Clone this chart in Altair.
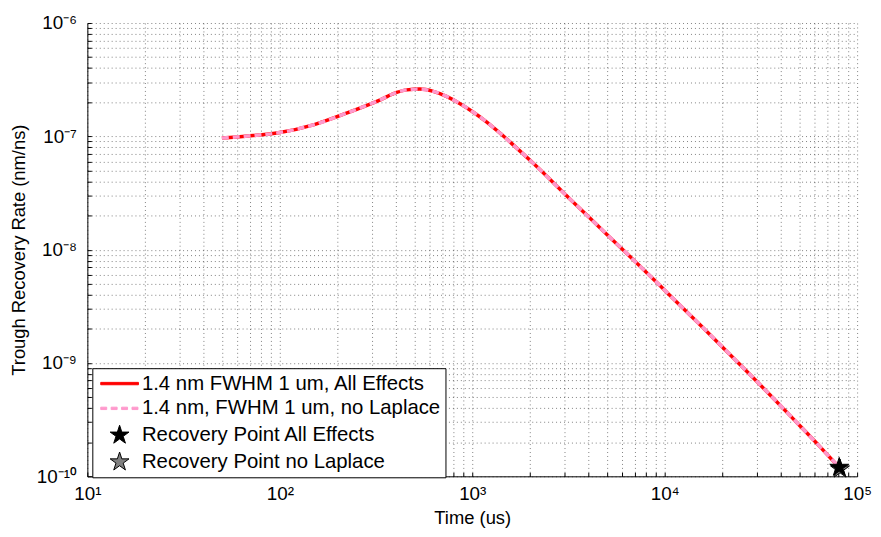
import altair as alt
import pandas as pd

# ---- data ----
time_us = [50, 68, 100, 151, 224, 333, 405, 457, 535, 627, 734, 860, 1009,
           1181, 1383, 1622, 2096, 3177, 4721, 7000, 10400, 15450, 22960,
           36900, 48700, 64200, 80700]
rate_all = [9.66e-8, 1.005e-7, 1.08e-7, 1.27e-7, 1.61e-7, 2.10e-7, 2.44e-7,
            2.57e-7, 2.61e-7, 2.49e-7, 2.25e-7, 1.95e-7, 1.64e-7, 1.35e-7,
            1.08e-7, 8.49e-8, 5.69e-8, 2.86e-8, 1.50e-8, 7.91e-9, 4.11e-9,
            2.13e-9, 1.09e-9, 4.84e-10, 2.97e-10, 1.82e-10, 1.20e-10]
rate_nolap = list(rate_all)
star_time = [81500, 80700]
star_rate = [1.16e-10, 1.20e-10]

series = ["1.4 nm FWHM 1 um, All Effects",
          "1.4 nm, FWHM 1 um, no Laplace",
          "Recovery Point All Effects",
          "Recovery Point no Laplace"]

x_ticks = [k * 10 ** e for e in range(1, 5) for k in range(1, 10)] + [1e5]
y_ticks = [k * 10.0 ** e for e in range(-10, -6) for k in range(1, 10)] + [1e-6]

red_df = pd.DataFrame({"t": time_us, "r": rate_all, "s": series[0]})
pink_df = pd.DataFrame({"t": time_us, "r": rate_nolap, "s": series[1]})
star_df = pd.DataFrame({"t": star_time, "r": star_rate, "s": [series[3], series[2]]})

W, H = 776, 457
FONT = "Liberation Sans"

# legend / point symbol shapes (unit coordinates, scaled by sqrt(size)/2)
STAR = ("M0,-1L0.2245,-0.309L0.951,-0.309L0.363,0.118L0.588,0.809L0,0.382"
        "L-0.588,0.809L-0.363,0.118L-0.951,-0.309L-0.2245,-0.309Z")
SOLID = "M-1.9,-0.12L1.9,-0.12L1.9,0.12L-1.9,0.12Z"
DASHED = ("M-1.9,-0.12L-1.3,-0.12L-1.3,0.12L-1.9,0.12Z"
          "M-0.85,-0.12L-0.25,-0.12L-0.25,0.12L-0.85,0.12Z"
          "M0.2,-0.12L0.8,-0.12L0.8,0.12L0.2,0.12Z"
          "M1.25,-0.12L1.85,-0.12L1.85,0.12L1.25,0.12Z")

stroke_sc = alt.Scale(domain=series, range=["#ff0000", "#ff99cc", "#000000", "#000000"])
fill_sc = alt.Scale(domain=series, range=["#ff0000", "#ff99cc", "#000000", "#808080"])
shape_sc = alt.Scale(domain=series, range=[SOLID, DASHED, STAR, STAR])

leg = alt.Legend(
    title=None, orient="none", legendX=5, legendY=348,
    padding=5, symbolOffset=12, labelOffset=12, rowPadding=4,
    symbolSize=400, symbolStrokeWidth=1, labelFontSize=20.5, labelFont=FONT,
    labelColor="black", labelLimit=0, strokeColor="black", fillColor="white",
    cornerRadius=0,
)

lbl = ("abs(datum.value/pow(10, round(log(datum.value)/LN10)) - 1) < 1e-6 ? "
       "'10' + (round(log(datum.value)/LN10) < 0 ? '⁻' : '') + "
       "['⁰','¹','²','³','⁴','⁵','⁶','⁷','⁸','⁹','¹⁰'][abs(round(log(datum.value)/LN10))] : ''")

xs = alt.Scale(type="log", domain=[10, 1e5], nice=False)
ys = alt.Scale(type="log", domain=[1e-10, 1e-6], nice=False)

grid_kw = dict(grid=True, gridDash=[1, 3], gridColor="#000000", gridOpacity=0.5, gridWidth=1)

x_main = alt.Axis(values=x_ticks, labelExpr=lbl, ticks=False, tickSize=0,
                  domainColor="black", labelFont=FONT, labelFontSize=19,
                  labelColor="black", labelPadding=8, labelOverlap=False,
                  labelFlush=False, labelBound=False, title="Time (us)",
                  titleFont=FONT, titleFontSize=18.5, titleFontWeight="normal",
                  titleColor="black", titlePadding=6, **grid_kw)
y_main = alt.Axis(values=y_ticks, labelExpr=lbl, ticks=False, tickSize=0,
                  domainColor="black", labelFont=FONT, labelFontSize=19,
                  labelColor="black", labelPadding=11, labelOverlap=False,
                  labelFlush=False, labelBound=False,
                  title="Trough Recovery Rate (nm/ns)",
                  titleFont=FONT, titleFontSize=18.5, titleFontWeight="normal",
                  titleColor="black", titlePadding=8, **grid_kw)
x_in = alt.Axis(orient="top", offset=-H, values=x_ticks, labels=False, grid=False,
                domain=False, ticks=True, tickSize=4, tickColor="black", title=None)
y_in = alt.Axis(orient="right", offset=-W, values=y_ticks, labels=False, grid=False,
                domain=False, ticks=True, tickSize=4, tickColor="black", title=None)

red = alt.Chart(red_df).mark_line(strokeWidth=3.5, interpolate="monotone").encode(
    x=alt.X("t:Q", scale=xs, axis=x_main),
    y=alt.Y("r:Q", scale=ys, axis=y_main),
    stroke=alt.Stroke("s:N", scale=stroke_sc, legend=leg),
)
pink = alt.Chart(pink_df).mark_line(strokeWidth=3.5, interpolate="monotone",
                                    strokeDash=[7, 4]).encode(
    x=alt.X("t:Q", scale=xs, axis=x_in),
    y=alt.Y("r:Q", scale=ys, axis=y_in),
    stroke=alt.Stroke("s:N", scale=stroke_sc, legend=leg),
)
stars = alt.Chart(star_df).mark_point(size=400, strokeWidth=1, opacity=1,
                                      fillOpacity=1, strokeOpacity=1).encode(
    x=alt.X("t:Q", scale=xs, axis=None),
    y=alt.Y("r:Q", scale=ys, axis=None),
    stroke=alt.Stroke("s:N", scale=stroke_sc, legend=leg),
    fill=alt.Fill("s:N", scale=fill_sc, legend=leg),
    shape=alt.Shape("s:N", scale=shape_sc, legend=leg),
)

chart = alt.layer(red, pink, stars).resolve_axis(
    x="independent", y="independent"
).properties(
    width=W, height=H,
    autosize=alt.AutoSizeParams(type="none"),
    padding={"left": 80, "top": 13, "right": 16, "bottom": 52},
    background="white",
).configure_view(stroke=None)

chart.save("out.html", embed_options={"renderer": "svg", "actions": False})
